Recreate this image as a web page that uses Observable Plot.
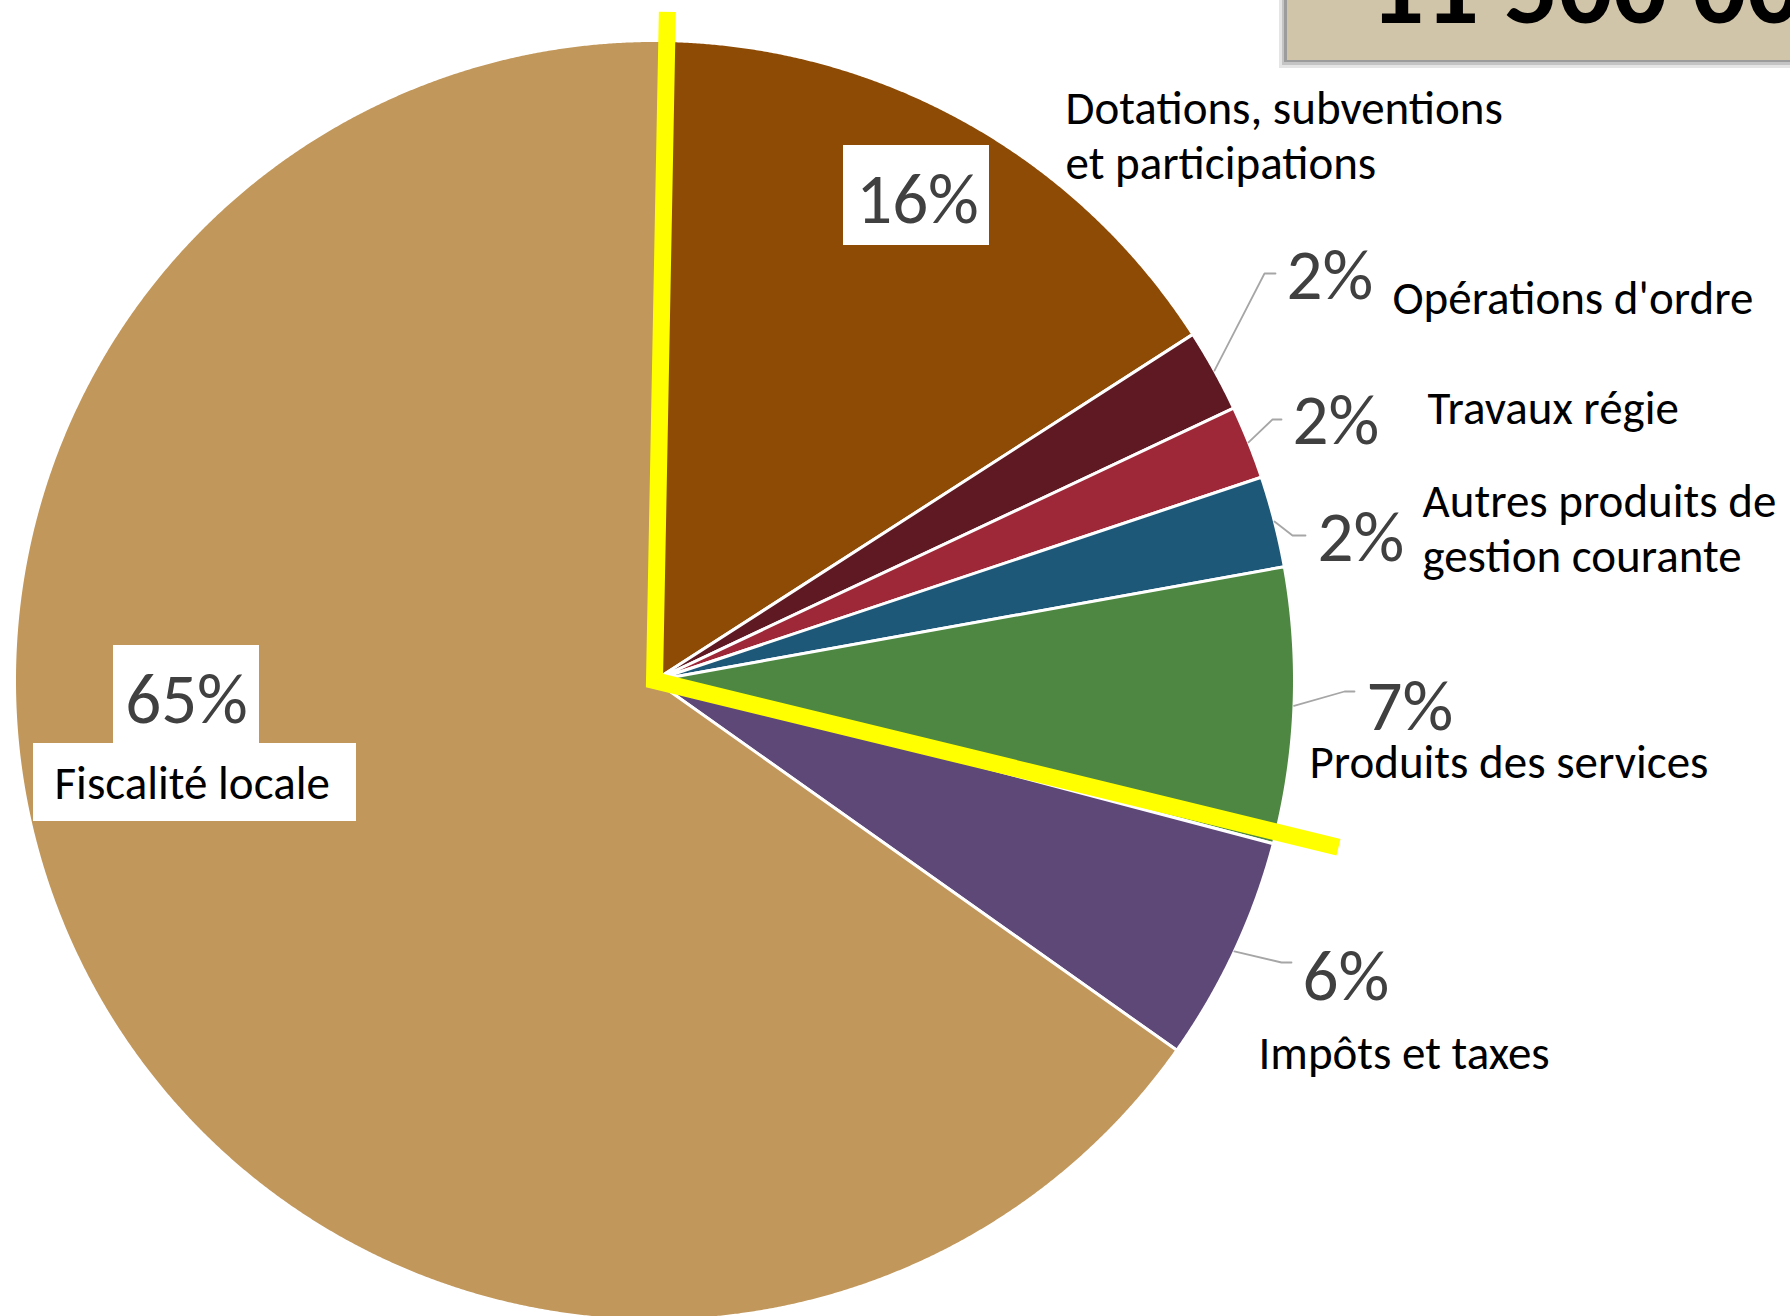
<!DOCTYPE html>
<html><head><meta charset="utf-8">
<script src="https://cdn.jsdelivr.net/npm/d3@7"></script>
<script src="https://cdn.jsdelivr.net/npm/@observablehq/plot@0.6"></script>
<style>html,body{margin:0;padding:0;background:#fff;overflow:hidden}</style>
</head><body><div id="chart"></div>
<script>
// ---- data ----
const categories = [
  "Dotations, subventions\net participations",
  "Opérations d'ordre",
  "Travaux régie",
  "Autres produits de\ngestion courante",
  "Produits des services",
  "Impôts et taxes",
  "Fiscalité locale"
];
const values = [15.6, 2.1, 1.85, 2.3, 6.95, 5.7, 65.5];
const pctLabels = ["16%", "2%", "2%", "2%", "7%", "6%", "65%"];
const colors = ["#8E4B05", "#5E1922", "#9E2837", "#1E5879", "#4E8742", "#5E4878", "#C1975B"];
const titleText = "11 500 000 €";
// highlight (yellow) polyline, in pie terms: cumulative % and radius factor
const highlightPct = [0, 0, 28.5];
const highlightRad = [1.045, 0, 1.1];

// ---- layout ----
const W = 1790, H = 1316, CX = 654, CY = 680, R = 640, START = 1.1; // degrees
const FONT = "Carlito, Calibri, Lato, 'Open Sans', sans-serif";
const pctPos = [ [917, 222, "middle"], [1286, 298, "start"], [1292, 443, "start"], [1317, 560, "start"], [1366, 729, "start"], [1302, 999, "start"], [186, 722, "middle"] ];
const catPos = [ [1065, 178, "start"], [1392, 313, "start"], [1427, 423, "start"], [1422, 571, "start"], [1309, 777, "start"], [1258, 1068, "start"], [54, 798, "start"] ];
const elbows = [ null, [[1264, 273], [1275, 273]], [[1272, 419], [1281, 419]], [[1292, 535], [1305, 535]], [[1344, 691], [1354, 691]], [[1281, 962], [1291, 962]], null ];
const boxes = [ {x1: 843, x2: 989, y1: 145, y2: 245}, {x1: 113, x2: 259, y1: 645, y2: 744}, {x1: 33, x2: 356, y1: 743, y2: 821} ];

const total = d3.sum(values);
const ang = p => (START + 360 * p / total) * Math.PI / 180;
const pt = (a, r) => ({x: CX + r * Math.sin(a), y: CY - r * Math.cos(a)});

let cum = 0;
const slices = values.map((v, i) => {
  const a0 = ang(cum), a1 = ang(cum + v);
  const mid = ang(cum + v / 2);
  cum += v;
  const n = Math.max(2, Math.ceil((a1 - a0) / 0.003));
  const pts = [pt(0, 0)];
  for (let k = 0; k <= n; k++) pts.push(pt(a0 + (a1 - a0) * k / n, R));
  pts.push(pt(0, 0));
  return {i, pts, mid};
});

const marks = [];
slices.forEach(s => {
  marks.push(Plot.line(s.pts, {x: "x", y: "y", fill: colors[s.i], stroke: "white", strokeWidth: 3, strokeLinejoin: "round", curve: "linear"}));
});

// leader lines
const leaders = [];
slices.forEach(s => {
  if (!elbows[s.i]) return;
  const p0 = pt(s.mid, R);
  leaders.push({z: s.i, x: p0.x, y: p0.y});
  elbows[s.i].forEach(([x, y]) => leaders.push({z: s.i, x, y}));
});
marks.push(Plot.line(leaders, {x: "x", y: "y", z: "z", stroke: "#A6A6A6", strokeWidth: 1.8}));

// highlight
const hl = highlightPct.map((p, k) => pt(ang(p), R * highlightRad[k]));
marks.push(Plot.line(hl, {x: "x", y: "y", stroke: "#FFFF00", strokeWidth: 17, strokeLinejoin: "miter", strokeLinecap: "butt", strokeMiterlimit: 10}));

// label boxes
marks.push(Plot.rect(boxes, {x1: "x1", x2: "x2", y1: "y1", y2: "y2", fill: "white"}));

// percentage labels
const pctData = pctLabels.map((t, i) => ({t, x: pctPos[i][0], y: pctPos[i][1], a: pctPos[i][2]}));
["start", "middle"].forEach(anchor => {
  marks.push(Plot.text(pctData.filter(d => d.a === anchor), {x: "x", y: "y", text: "t", textAnchor: anchor, lineAnchor: "bottom", fontSize: 71, fill: "#404040", fontFamily: FONT}));
});
const catData = categories.map((t, i) => ({t, x: catPos[i][0], y: catPos[i][1]}));
marks.push(Plot.text(catData, {x: "x", y: "y", text: "t", textAnchor: "start", lineAnchor: "bottom", lineHeight: 1.17, fontSize: 47, fill: "#000000", fontFamily: FONT}));

// title box
const shadow = [{x1: 1279, x2: 1790, y1: 0, y2: 68, o: 0.10}, {x1: 1282, x2: 1790, y1: 0, y2: 65, o: 0.14}, {x1: 1284, x2: 1790, y1: 0, y2: 62, o: 0.2}];
marks.push(Plot.rect(shadow, {x1: "x1", x2: "x2", y1: "y1", y2: "y2", fill: "#000", fillOpacity: "o"}));
marks.push(Plot.rect([{x1: 1287, x2: 1790, y1: 0, y2: 60}], {x1: "x1", x2: "x2", y1: "y1", y2: "y2", fill: "#D1C5A9"}));
marks.push(Plot.text([{t: titleText, x: 1369, y: 22}], {x: "x", y: "y", text: "t", textAnchor: "start", lineAnchor: "bottom", fontSize: 108, fontWeight: "bold", fill: "#000", fontFamily: FONT}));

const chart = Plot.plot({
  width: W, height: H,
  margin: 0,
  x: {domain: [0, W], range: [0, W], axis: null},
  y: {domain: [0, H], range: [0, H], axis: null},
  opacity: {type: "identity"},
  style: {background: "white", fontFamily: FONT, overflow: "hidden"},
  marks
});
document.getElementById("chart").appendChild(chart);
</script>
</body></html>
